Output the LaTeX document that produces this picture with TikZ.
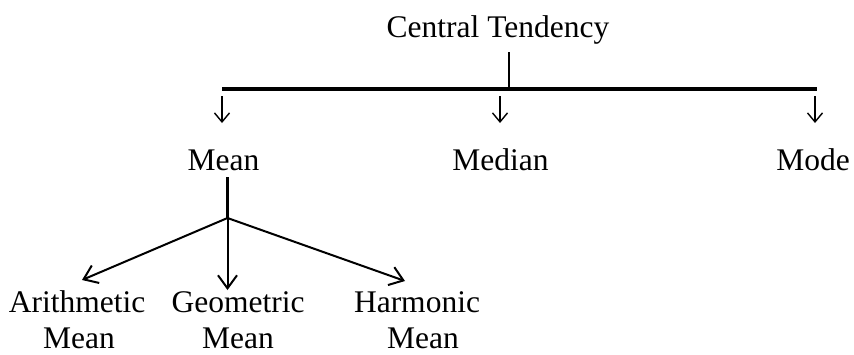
\documentclass[tikz,border=0pt]{standalone}
\usepackage{fontspec}
\setmainfont{Liberation Serif}
\usetikzlibrary{arrows.meta}
\begin{document}
\begin{tikzpicture}[x=1pt,y=-1pt,
  lbl/.style={anchor=base,inner sep=0pt,font=\fontsize{31.5}{36}\selectfont},
  smallarr/.style={line width=1.4pt,-{Straight Barb[length=9pt,width=15pt,line width=1.4pt]}},
  bigarr/.style={line width=2pt,-{Straight Barb[length=13pt,width=19pt,line width=2pt]}},
  bar/.style={line width=3.2pt},
  stem/.style={line width=2pt}]
\useasboundingbox (0,0) rectangle (854,354);
\node[lbl] (ct) at (498,37) {Central Tendency};
\coordinate (cttop) at (509,52);
\coordinate (ctbar) at (509,89);
\coordinate (barL) at (222,89);
\coordinate (barR) at (816.5,89);
\draw[stem] (cttop) -- (ctbar);
\draw[bar] (barL) -- (barR);
\node[lbl] (mean) at (223.5,170) {Mean};
\node[lbl] (median) at (500.5,170) {Median};
\node[lbl] (mode) at (813,170) {Mode};
\coordinate (a1s) at (222,96); \coordinate (a1e) at (222,123);
\coordinate (a2s) at (500,96); \coordinate (a2e) at (500,123);
\coordinate (a3s) at (815,96); \coordinate (a3e) at (815,123);
\draw[smallarr] (a1s) -- (a1e);
\draw[smallarr] (a2s) -- (a2e);
\draw[smallarr] (a3s) -- (a3e);
\coordinate (mtop) at (227.5,177);
\coordinate (junc) at (227.5,218);
\coordinate (tipL) at (82,280);
\coordinate (tipC) at (227.5,290);
\coordinate (tipR) at (405,281);
\draw[line width=3pt] (mtop) -- (junc);
\draw[bigarr] (junc) -- (tipL);
\draw[bigarr] (junc) -- (tipC);
\draw[bigarr] (junc) -- (tipR);
\node[lbl] (ar) at (77,312) {Arithmetic};
\node[lbl] (arm) at (79,348) {Mean};
\node[lbl] (ge) at (238,312) {Geometric};
\node[lbl] (gem) at (238,348) {Mean};
\node[lbl] (ha) at (417,312) {Harmonic};
\node[lbl] (ham) at (423,348) {Mean};
\end{tikzpicture}
\end{document}
